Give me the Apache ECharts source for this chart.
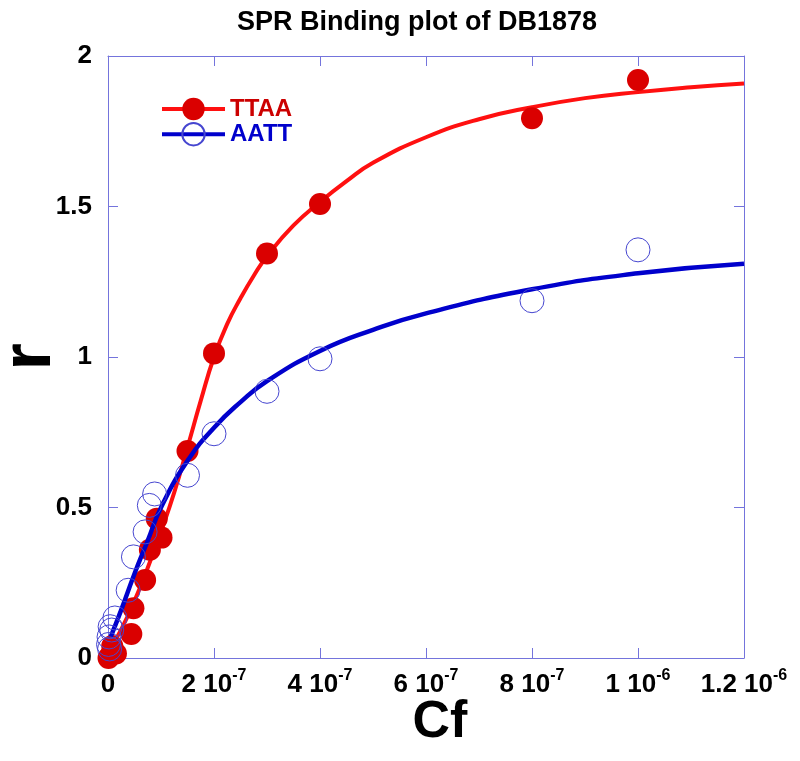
<!DOCTYPE html>
<html>
<head>
<meta charset="utf-8">
<script src="https://cdn.jsdelivr.net/npm/echarts@6/dist/echarts.min.js"></script>
<style>
html,body{margin:0;padding:0;background:#fff;}
#chart{width:800px;height:761px;}
</style>
</head>
<body>
<div id="chart"></div>
<script>
// ---- data ----
var titleText = 'SPR Binding plot of DB1878';
var seriesNames = ['TTAA', 'AATT'];
var xName = 'Cf';
var yName = 'r';

// measured points
var ttaaX = [1e-9, 5e-9, 8e-9, 1.5e-8, 4.4e-8, 4.8e-8, 7.0e-8, 7.9e-8, 9.2e-8, 1.01e-7, 1.5e-7, 2e-7, 3e-7, 4e-7, 8e-7, 1e-6];
var ttaaY = [0.0, 0.01, 0.04, 0.015, 0.08, 0.165, 0.259, 0.36, 0.463, 0.40, 0.688, 1.012, 1.344, 1.508, 1.793, 1.92];
var aattX = [1e-9, 2e-9, 3e-9, 4e-9, 7e-9, 1.3e-8, 3.8e-8, 4.8e-8, 7.0e-8, 7.8e-8, 8.8e-8, 1.5e-7, 2e-7, 3e-7, 4e-7, 8e-7, 1e-6];
var aattY = [0.045, 0.07, 0.03, 0.104, 0.093, 0.133, 0.225, 0.336, 0.419, 0.507, 0.545, 0.607, 0.745, 0.886, 0.994, 1.187, 1.356];

// fitted curves
var ttaaFitX = [4e-9, 2.5e-8, 5e-8, 7.5e-8, 1e-7, 1.25e-7, 1.5e-7, 1.75e-7, 2e-7, 2.25e-7, 2.5e-7, 2.75e-7, 3e-7, 3.5e-7, 4e-7, 4.5e-7, 5e-7, 6e-7, 7e-7, 8e-7, 9e-7, 1e-6, 1.1e-6, 1.2e-6];
var ttaaFitY = [0.03, 0.095, 0.19, 0.30, 0.42, 0.55, 0.70, 0.855, 1.0, 1.11, 1.195, 1.27, 1.335, 1.437, 1.515, 1.584, 1.645, 1.73, 1.79, 1.83, 1.86, 1.88, 1.896, 1.909];
var aattFitX = [5e-9, 2.5e-8, 5e-8, 7.5e-8, 1e-7, 1.5e-7, 2e-7, 2.5e-7, 3e-7, 4e-7, 5e-7, 6e-7, 8e-7, 1e-6, 1.2e-6];
var aattFitY = [0.07, 0.16, 0.28, 0.39, 0.50, 0.655, 0.765, 0.85, 0.92, 1.02, 1.09, 1.145, 1.225, 1.278, 1.31];

// axis ticks
var xMin = 0, xMax = 1.2e-6, xStep = 2e-7;
var yMin = 0, yMax = 2, yStep = 0.5;
var xTickMant = ['0', '2', '4', '6', '8', '1', '1.2'];
var xTickExp = ['', '-7', '-7', '-7', '-7', '-6', '-6'];
var yTickLabels = ['0', '0.5', '1', '1.5', '2'];

function pairs(xs, ys) { return xs.map(function (x, i) { return [x, ys[i]]; }); }

var FONT = "'Liberation Sans', Arial, Helvetica, sans-serif";
var AXIS_COLOR = '#7474dc';
var RED_LINE = '#ff1010', RED_DOT = '#da0000', RED_TEXT = '#cc0000';
var BLUE_LINE = '#0000cc', BLUE_DOT = '#4646d0', BLUE_TEXT = '#0000cc';

var chart = echarts.init(document.getElementById('chart'), null, {renderer: 'canvas'});

var axisCommon = {
  axisLine: {show: true, onZero: false, lineStyle: {color: AXIS_COLOR, width: 1}},
  axisTick: {show: true, inside: true, length: 10, lineStyle: {color: AXIS_COLOR, width: 1}},
  splitLine: {show: false}
};

var option = {
  animation: false,
  backgroundColor: '#ffffff',
  title: {
    text: titleText,
    left: 412, top: 4, textAlign: 'center',
    textStyle: {fontFamily: FONT, fontSize: 27, fontWeight: 'bold', color: '#000'}
  },
  legend: {
    orient: 'vertical', left: 160, top: 97, padding: 0,
    itemWidth: 63, itemHeight: 28, itemGap: 1,
    data: [
      {name: seriesNames[0], textStyle: {color: RED_TEXT}},
      {name: seriesNames[1], textStyle: {color: BLUE_TEXT}}
    ],
    lineStyle: {width: 4},
    textStyle: {fontFamily: FONT, fontSize: 24, fontWeight: 'bold'},
    selectedMode: false
  },
  grid: {left: 108, right: 56, top: 56, bottom: 103, containLabel: false, outerBoundsMode: 'none'},
  xAxis: [
    Object.assign({}, axisCommon, {
      type: 'value', position: 'bottom', min: xMin, max: xMax, interval: xStep,
      name: xName, nameLocation: 'middle', nameGap: 39, nameMoveOverlap: false,
      nameTextStyle: {fontFamily: FONT, fontSize: 52, fontWeight: 'bold', color: '#000', padding: [0, 0, 0, 28]},
      axisLabel: {
        margin: 10,
        formatter: function (v, i) {
          return xTickExp[i] ? '{b|' + xTickMant[i] + ' 10}{s|' + xTickExp[i] + '}' : '{b|' + xTickMant[i] + '}';
        },
        rich: {
          b: {fontFamily: FONT, fontSize: 26, fontWeight: 'bold', color: '#000', lineHeight: 30, verticalAlign: 'bottom'},
          s: {fontFamily: FONT, fontSize: 16, fontWeight: 'bold', color: '#000', lineHeight: 16, verticalAlign: 'top'}
        }
      }
    }),
    Object.assign({}, axisCommon, {
      type: 'value', position: 'top', min: xMin, max: xMax, interval: xStep,
      axisLabel: {show: false}
    })
  ],
  yAxis: [
    Object.assign({}, axisCommon, {
      type: 'value', position: 'left', min: yMin, max: yMax, interval: yStep,
      name: yName, nameLocation: 'middle', nameGap: 42, nameRotate: 90, nameMoveOverlap: false,
      nameTextStyle: {fontFamily: FONT, fontSize: 70, fontWeight: 'bold', color: '#000'},
      axisLabel: {
        margin: 16,
        formatter: function (v, i) { return yTickLabels[i]; },
        fontFamily: FONT, fontSize: 26, fontWeight: 'bold', color: '#000'
      }
    }),
    Object.assign({}, axisCommon, {
      type: 'value', position: 'right', min: yMin, max: yMax, interval: yStep,
      axisLabel: {show: false}
    })
  ],
  series: [
    {
      name: seriesNames[0], type: 'line', data: pairs(ttaaFitX, ttaaFitY),
      smooth: 0.5, showSymbol: false, symbol: 'circle',
      lineStyle: {color: RED_LINE, width: 4},
      itemStyle: {color: RED_DOT},
      z: 2, silent: true
    },
    {
      name: seriesNames[0] + ' data', type: 'scatter', data: pairs(ttaaX, ttaaY),
      symbol: 'circle', symbolSize: 22,
      itemStyle: {color: RED_DOT, opacity: 1},
      z: 3, silent: true
    },
    {
      name: seriesNames[1], type: 'line', data: pairs(aattFitX, aattFitY),
      smooth: 0.5, showSymbol: false, symbol: 'circle',
      lineStyle: {color: BLUE_LINE, width: 4.5},
      itemStyle: {color: 'rgba(0,0,0,0)', borderColor: BLUE_DOT, borderWidth: 1},
      z: 4, silent: true
    },
    {
      name: seriesNames[1] + ' data', type: 'scatter', data: pairs(aattX, aattY),
      symbol: 'circle', symbolSize: 24,
      itemStyle: {color: 'rgba(0,0,0,0)', borderColor: BLUE_DOT, borderWidth: 1, opacity: 1},
      z: 5, silent: true
    }
  ]
};
chart.setOption(option);
</script>
</body>
</html>
